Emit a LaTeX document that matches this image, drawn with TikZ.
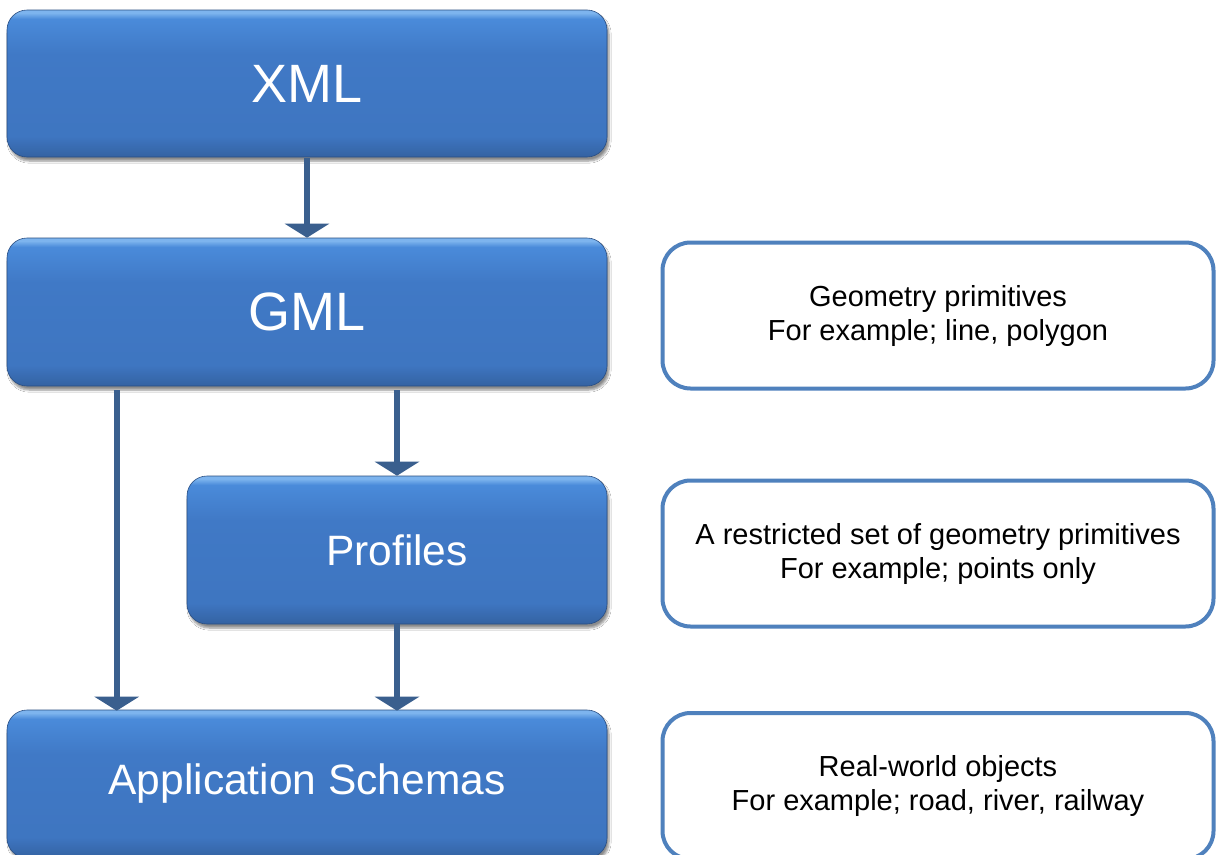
\documentclass[tikz,border=0pt]{standalone}
\usepackage{fontspec}
\setmainfont{Liberation Sans}
\usetikzlibrary{arrows.meta,shadows.blur}
\definecolor{arrowblue}{HTML}{3A5F8E}
\definecolor{edgeblue}{HTML}{4F81BD}
\definecolor{hiblue}{HTML}{7DB4EE}
\definecolor{topblue}{HTML}{4A8BDA}
\definecolor{midblue}{HTML}{4079C6}
\definecolor{botblue}{HTML}{3462A2}
\pgfdeclareverticalshading{boxshade}{100bp}{color(0bp)=(botblue); color(25bp)=(botblue); color(32bp)=(midblue!85!botblue); color(60bp)=(midblue); color(72bp)=(topblue); color(74bp)=(hiblue); color(75bp)=(hiblue); color(100bp)=(hiblue)}
\tikzset{
  bluebox/.style={rounded corners=20pt, shading=boxshade, draw=botblue!80!black, line width=0.6pt,
    text=white, align=center, inner sep=0pt,
    blur shadow={shadow xshift=2pt, shadow yshift=-4pt, shadow blur steps=6, shadow opacity=45}},
  notebox/.style={rounded corners=28pt, draw=edgeblue, line width=4pt, fill=white,
    align=center, inner sep=0pt, font=\fontsize{29}{34}\selectfont},
  flow/.style={draw=arrowblue, line width=6pt, -{Triangle[width=44pt,length=14pt]}},
}
\begin{document}
\begin{tikzpicture}[x=1pt,y=-1pt]
\clip (0,0) rectangle (1218,854);
\fill[white] (0,0) rectangle (1218,854);
% blue boxes
\node[bluebox, minimum width=600pt, minimum height=147pt, font=\fontsize{54}{62}\selectfont] (xml) at (307,83.5) {XML};
\node[bluebox, minimum width=600pt, minimum height=148pt, font=\fontsize{54}{62}\selectfont] (gml) at (307,312) {GML};
\node[bluebox, minimum width=420pt, minimum height=148pt, font=\fontsize{42.5}{50}\selectfont] (prof) at (397,550) {Profiles};
\node[bluebox, minimum width=600pt, minimum height=148pt, font=\fontsize{42.5}{50}\selectfont] (app) at (307,784) {Application Schemas};
% note boxes
\node[notebox, minimum width=551pt, minimum height=146pt] (n1) at (938,315.5) {Geometry primitives\\For example; line, polygon};
\node[notebox, minimum width=551pt, minimum height=146pt] (n2) at (938,553.5) {A restricted set of geometry primitives\\For example; points only};
\node[notebox, minimum width=551pt, minimum height=146pt] (n3) at (938,786) {Real-world objects\\For example; road, river, railway};
% connectors
\draw[flow] ([yshift=-1pt]xml.south) -- (gml.north);
\draw[flow] ([yshift=-4pt]gml.south -| prof.north) -- (prof.north);
\draw[flow] ([xshift=110pt,yshift=-4pt]gml.south west) -- ([xshift=110pt,yshift=-1pt]app.north west);
\draw[flow] (prof.south) -- ([yshift=-1pt]app.north -| prof.south);
\end{tikzpicture}
\end{document}
